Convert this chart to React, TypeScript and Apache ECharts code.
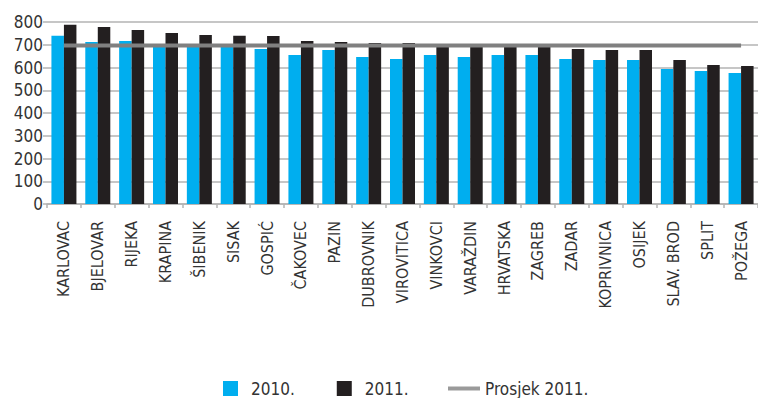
import React, { useEffect, useRef } from "react";
import * as echarts from "echarts";

const categories = [
  "KARLOVAC", "BJELOVAR", "RIJEKA", "KRAPINA", "ŠIBENIK", "SISAK", "GOSPIĆ",
  "ČAKOVEC", "PAZIN", "DUBROVNIK", "VIROVITICA", "VINKOVCI", "VARAŽDIN",
  "HRVATSKA", "ZAGREB", "ZADAR", "KOPRIVNICA", "OSIJEK", "SLAV. BROD", "SPLIT", "POŽEGA",
];
const values2010 = [740, 712, 716, 700, 698, 700, 681, 655, 677, 646, 637, 655, 646, 655, 655, 637, 633, 633, 593, 585, 576];
const values2011 = [788, 778, 765, 752, 743, 740, 738, 716, 712, 708, 708, 700, 698, 695, 690, 681, 677, 677, 633, 611, 607];
const prosjek2011 = 697;
const yTicks = { min: 0, max: 800, interval: 100 };

const FONT = "'DejaVu Sans Condensed', 'DejaVu Sans', sans-serif";

export default function App() {
  const ref = useRef<HTMLDivElement>(null);
  useEffect(() => {
    document.body.style.margin = "0";
    const chart = echarts.init(ref.current!, null, { renderer: "svg" });
    chart.setOption({
      animation: false,
      backgroundColor: "#ffffff",
      textStyle: { fontFamily: FONT },
      grid: { left: 47, right: -8, top: 22, bottom: 194, containLabel: false },
      legend: [
        {
          data: ["2010.", "2011."],
          left: 218,
          top: 375,
          icon: "rect",
          itemWidth: 15,
          itemHeight: 15,
          itemGap: 42,
          textStyle: { fontFamily: FONT, fontSize: 17, color: "#333333", padding: [0, 0, 0, 8] },
        },
        {
          data: ["Prosjek 2011."],
          left: 443,
          top: 375,
          icon: "rect",
          itemWidth: 32,
          itemHeight: 4,
          itemStyle: { color: "#9a9a9a" },
          textStyle: { fontFamily: FONT, fontSize: 17, color: "#333333" },
        },
      ],
      xAxis: {
        type: "category",
        data: categories,
        axisLine: { lineStyle: { color: "#b3b3b3", width: 1.5 } },
        axisTick: { show: true, length: 4, lineStyle: { color: "#b3b3b3", width: 1.5 } },
        axisLabel: {
          rotate: 90,
          interval: 0,
          margin: 17,
          fontFamily: FONT,
          fontSize: 16,
          color: "#333333",
        },
      },
      yAxis: {
        type: "value",
        min: yTicks.min,
        max: yTicks.max,
        interval: yTicks.interval,
        axisLine: { show: false },
        axisTick: { show: true, length: 4, lineStyle: { color: "#b3b3b3", width: 1.5 } },
        splitLine: { lineStyle: { color: "#b3b3b3", width: 1.5 } },
        axisLabel: { fontFamily: FONT, fontSize: 17, color: "#333333", margin: 4 },
      },
      series: [
        {
          name: "2010.",
          type: "bar",
          data: values2010,
          barWidth: 12.5,
          barGap: "0%",
          itemStyle: { color: "#00aeef" },
        },
        {
          name: "2011.",
          type: "bar",
          data: values2011,
          barWidth: 12.5,
          barGap: "0%",
          itemStyle: { color: "#231f20" },
        },
        {
          name: "Prosjek 2011.",
          type: "line",
          data: [
            [categories[0], prosjek2011],
            [categories[categories.length - 1], prosjek2011],
          ],
          showSymbol: false,
          symbol: "none",
          z: 5,
          lineStyle: { color: "#808080", width: 4 },
          itemStyle: { color: "#9a9a9a" },
        },
      ],
    });
    return () => chart.dispose();
  }, []);
  return (
    <div
      ref={ref}
      style={{ position: "fixed", left: 0, top: 0, width: 758, height: 398 }}
    />
  );
}
